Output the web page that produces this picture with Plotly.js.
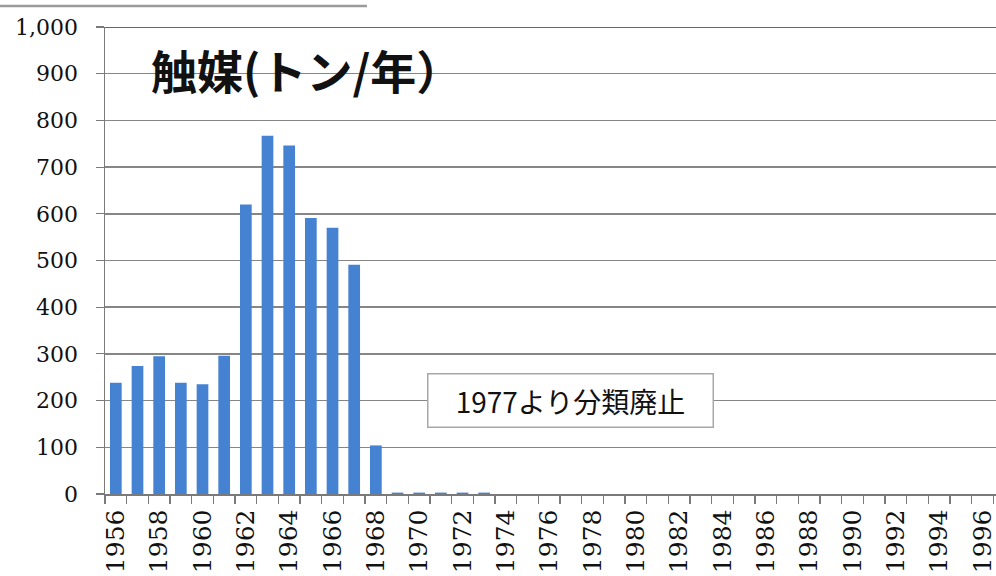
<!DOCTYPE html>
<html>
<head>
<meta charset="utf-8">
<script src="https://cdn.plot.ly/plotly-3.0.1.min.js"></script>
<style>
  html, body { margin: 0; padding: 0; background: #ffffff; }
  #chart { width: 996px; height: 576px; }
</style>
</head>
<body>
<div id="chart"></div>
<script>
// Annual catalyst output (tons per year), 1956-1996
const years = [];
for (let y = 1956; y <= 1996; y++) years.push(String(y));

const tons = [
  238, 274, 295, 238, 235, 296, 620, 767, 746, 591,
  570, 491, 104, 3, 3, 3, 3, 3, null, null,
  null, null, null, null, null, null, null, null, null, null,
  null, null, null, null, null, null, null, null, null, null,
  null
];

// only every other year gets a label, every year gets a tick
const yearLabels = years.map((y, i) => (i % 2 === 0 ? y : ''));

const chartTitle = '触媒(トン/年）';
const noteText = '1977より分類廃止';

const trace = {
  type: 'bar',
  x: years,
  y: tons,
  marker: { color: '#4682d2', line: { width: 0 } },
  hoverinfo: 'x+y'
};

const layout = {
  width: 996,
  height: 576,
  margin: { l: 105, r: 0, t: 27, b: 82 },
  paper_bgcolor: '#ffffff',
  plot_bgcolor: '#ffffff',
  showlegend: false,
  bargap: 0.46,
  xaxis: {
    type: 'category',
    range: [-0.5, 40.62],
    tickvals: years,
    ticktext: yearLabels,
    tickson: 'boundaries',
    ticks: 'outside',
    ticklen: 8,
    tickwidth: 1.2,
    tickcolor: '#7a7a7a',
    tickangle: -90,
    ticklabelstandoff: 4,
    tickfont: { family: 'DejaVu Serif', size: 25, color: '#111111' },
    showline: true,
    linecolor: '#7a7a7a',
    linewidth: 1.5,
    showgrid: false,
    zeroline: false,
    fixedrange: true
  },
  yaxis: {
    range: [0, 1000],
    dtick: 100,
    tickformat: ',',
    ticks: 'outside',
    ticklen: 8,
    tickwidth: 1.2,
    tickcolor: '#7a7a7a',
    tickfont: { family: 'DejaVu Serif', size: 22, color: '#111111' },
    ticklabelstandoff: 13,
    showline: true,
    linecolor: '#7a7a7a',
    linewidth: 1.5,
    showgrid: true,
    gridcolor: '#868686',
    gridwidth: 1.5,
    zeroline: false,
    fixedrange: true
  },
  shapes: [
    // dark top border of the plot area
    { type: 'line', xref: 'paper', yref: 'y', x0: 0, x1: 1, y0: 1000, y1: 1000,
      line: { color: '#333333', width: 1.5 } },
    // thin gray rule above the chart
    { type: 'line', xref: 'paper', yref: 'paper', x0: -0.118, x1: 0.294, y0: 1.045, y1: 1.045,
      line: { color: '#9a9a9a', width: 2.5 } }
  ],
  annotations: [
    {
      text: '<b>' + chartTitle + '</b>',
      xref: 'paper', yref: 'y',
      x: 0.049, y: 910,
      xanchor: 'left', yanchor: 'middle',
      showarrow: false,
      font: { family: 'Noto Sans CJK JP', size: 46, color: '#111111' }
    },
    {
      text: noteText,
      xref: 'paper', yref: 'y',
      x: 0.522, y: 200,
      xanchor: 'center', yanchor: 'middle',
      showarrow: false,
      width: 280, height: 48,
      borderpad: 2,
      bordercolor: '#a8a8a8',
      borderwidth: 1.5,
      bgcolor: '#ffffff',
      align: 'center',
      font: { family: 'Noto Sans CJK JP', size: 28, color: '#111111' }
    }
  ]
};

Plotly.newPlot('chart', [trace], layout, { displayModeBar: false, staticPlot: true });
</script>
</body>
</html>
